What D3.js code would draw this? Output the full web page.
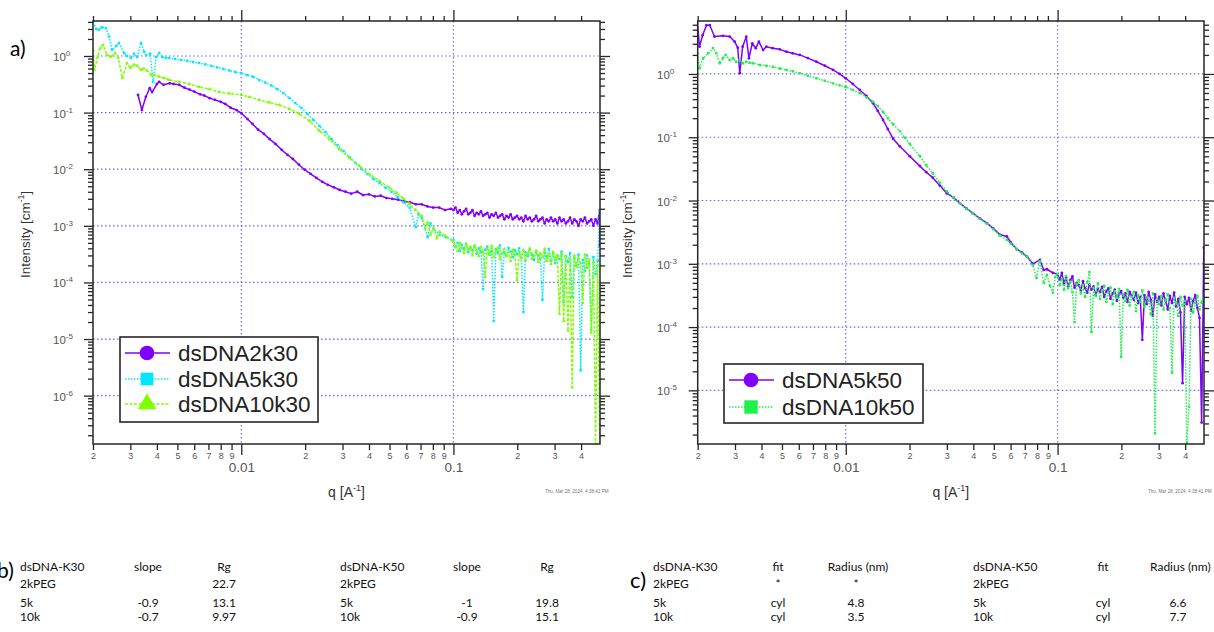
<!DOCTYPE html>
<html><head><meta charset="utf-8">
<script src="https://cdn.jsdelivr.net/npm/d3@7"></script>
<style>body{margin:0;background:#fff} svg{display:block}</style>
</head><body>
<svg id="c" width="1214" height="632"></svg>
<script>
// ---------------- DATA ----------------
// shared q grid of the noisy high-q tails [A^-1]
const qTail = [
0.1000,0.1023,0.1047,0.1072,0.1096,0.1122,0.1148,0.1175,0.1202,0.1230,
0.1259,0.1288,0.1318,0.1349,0.1380,0.1413,0.1445,0.1479,0.1514,0.1549,
0.1585,0.1622,0.1660,0.1698,0.1738,0.1778,0.1820,0.1862,0.1905,0.1950,
0.1995,0.2042,0.2089,0.2138,0.2188,0.2239,0.2291,0.2344,0.2399,0.2455,
0.2512,0.2570,0.2630,0.2692,0.2754,0.2818,0.2884,0.2951,0.3020,0.3090,
0.3162,0.3236,0.3311,0.3388,0.3467,0.3548,0.3631,0.3715,0.3802,0.3890,
0.3981,0.4074,0.4169,0.4266,0.4365,0.4467,0.4571,0.4677,0.4786,0.4898];

// ---- left panel: dsDNA-K30 ----
const head2k30 = [[0.00326,0.205],[0.0034,0.111],[0.00355,0.19],[0.0037,0.27],[0.0038,0.23],[0.0040,0.32],[0.0041,0.35],[0.0043,0.31],[0.0046,0.33],[0.0048,0.32],[0.0051,0.31],[0.0054,0.275],[0.0057,0.255],[0.0060,0.235],[0.0064,0.21],[0.0067,0.20],[0.0071,0.18],[0.0075,0.168],[0.0080,0.155],[0.0084,0.142],[0.0089,0.122],[0.0095,0.111],[0.0100,0.098],[0.0107,0.077],[0.0113,0.063],[0.0120,0.050],[0.0128,0.042],[0.0136,0.034],[0.0145,0.028],[0.0155,0.022],[0.0165,0.018],[0.0175,0.0152],[0.0187,0.0120],[0.0199,0.0098],[0.0212,0.0083],[0.0226,0.0070],[0.0241,0.0060],[0.0256,0.0053],[0.0273,0.0048],[0.0291,0.0043],[0.0310,0.0040],[0.0330,0.0037],[0.0352,0.0040],[0.0375,0.0035],[0.0400,0.0036],[0.0426,0.0033],[0.0454,0.0034],[0.0484,0.0031],[0.0515,0.0030],[0.0549,0.0029],[0.0585,0.0027],[0.0624,0.0026],[0.0665,0.0024],[0.0708,0.0024],[0.0755,0.0022],[0.0804,0.0021],[0.0857,0.0021],[0.0913,0.0019],[0.0973,0.0020]];
// tail intensities in units of 1e-3 cm^-1
const tail2k30 = [
1.9,2.1,1.7,1.9,1.6,1.8,2.0,1.6,1.7,1.9,
1.5,1.7,1.6,1.8,1.5,1.6,1.7,1.4,1.6,1.5,
1.7,1.4,1.5,1.6,1.3,1.5,1.4,1.6,1.3,1.4,
1.5,1.3,1.4,1.2,1.5,1.3,1.4,1.2,1.3,1.5,
1.2,1.3,1.4,1.1,1.3,1.2,1.4,1.2,1.3,1.1,
1.4,1.2,1.3,1.1,1.2,1.4,1.1,1.3,1.2,1.0,
1.3,1.2,1.4,1.1,1.2,1.3,1.0,1.3,1.1,1.9];
const end2k30 = [[0.4905,0.00045]];

const head5k30 = [[0.00200,3.99],[0.00207,3.0],[0.00213,2.9],[0.00220,3.2],[0.00230,3.1],[0.00238,2.2],[0.00246,1.28],[0.00257,1.5],[0.00265,1.7],[0.00280,1.13],[0.00289,1.0],[0.00302,0.92],[0.00312,1.1],[0.00323,0.96],[0.00337,1.7],[0.00348,1.2],[0.00356,1.04],[0.00372,1.1],[0.00384,0.35],[0.00397,0.96],[0.00410,1.13],[0.00424,0.96],[0.00442,0.92],[0.00457,0.92],[0.00488,0.885],[0.00521,0.85],[0.00556,0.82],[0.00593,0.78],[0.00633,0.75],[0.00676,0.71],[0.00722,0.67],[0.00770,0.63],[0.00822,0.59],[0.00878,0.555],[0.00937,0.52],[0.0100,0.50],[0.01067,0.46],[0.01139,0.43],[0.01216,0.377],[0.01298,0.34],[0.01386,0.30],[0.01479,0.26],[0.01579,0.222],[0.01686,0.181],[0.01799,0.148],[0.01921,0.121],[0.02050,0.095],[0.02189,0.074],[0.02336,0.058],[0.02494,0.0454],[0.02662,0.0342],[0.02842,0.0268],[0.03033,0.0210],[0.03238,0.0164],[0.03456,0.0129],[0.03689,0.0101],[0.03938,0.0082],[0.04204,0.0067],[0.04487,0.0057],[0.04790,0.0047],[0.05113,0.0040],[0.05457,0.0032],[0.05826,0.0026],[0.06218,0.0021],[0.06638,0.00095],[0.06850,0.0016],[0.07085,0.00137],[0.07563,0.00063],[0.07800,0.0011],[0.08073,0.00088],[0.08617,0.00070],[0.09198,0.00063]];
// tail intensities in units of 1e-4 cm^-1
const tail5k30 = [
5.6,4.2,5.0,3.6,4.6,3.9,4.8,3.4,4.1,3.7,
4.4,3.2,4.0,3.5,0.76,3.8,4.3,3.1,3.6,0.21,
3.9,3.3,4.5,1.26,3.4,3.0,4.1,3.5,2.8,3.7,
3.2,4.0,2.7,0.30,3.4,2.9,3.8,3.1,2.5,3.6,
3.0,2.6,0.49,3.3,2.8,3.9,2.4,3.2,2.2,3.0,
2.6,3.5,0.45,2.9,2.3,3.3,0.55,2.7,2.0,3.1,
0.028,2.5,1.6,3.0,2.1,0.145,2.8,1.4,2.4,19];

const head10k30 = [[0.00200,1.28],[0.00203,0.56],[0.00210,0.95],[0.00216,1.38],[0.00223,1.56],[0.00233,1.04],[0.00243,0.96],[0.00254,1.13],[0.00263,0.92],[0.00275,0.41],[0.00289,0.75],[0.00300,0.62],[0.00312,0.70],[0.00323,0.67],[0.00337,0.57],[0.00348,0.60],[0.00360,0.55],[0.00376,0.46],[0.00392,0.46],[0.00410,0.43],[0.00433,0.41],[0.00457,0.377],[0.00510,0.347],[0.00568,0.320],[0.00633,0.284],[0.00706,0.261],[0.00787,0.231],[0.00878,0.218],[0.0100,0.205],[0.01091,0.189],[0.01216,0.167],[0.01356,0.151],[0.01512,0.136],[0.01686,0.116],[0.0188,0.0944],[0.0210,0.0711],[0.0234,0.0473],[0.0260,0.0342],[0.0290,0.0226],[0.0324,0.0157],[0.0361,0.0114],[0.0402,0.0082],[0.0449,0.0062],[0.0500,0.0047],[0.0541,0.0038],[0.0583,0.0030],[0.0622,0.00244],[0.0664,0.0019],[0.0709,0.0015],[0.0735,0.0009],[0.0756,0.00116],[0.0780,0.0007],[0.0807,0.00092],[0.0835,0.00060],[0.0862,0.00078],[0.0920,0.00066]];
const tail10k30 = [
5.2,4.4,3.6,5.0,4.1,3.3,4.7,3.8,4.3,3.0,
4.5,3.7,2.9,4.2,3.4,1.26,3.9,3.1,4.4,2.8,
3.6,4.1,2.6,3.3,3.9,2.9,3.5,2.4,3.8,3.1,
1.1,3.4,2.7,3.7,2.5,3.2,4.0,2.6,3.0,3.6,
2.3,3.3,2.8,3.9,2.4,3.1,2.1,3.5,2.6,3.0,
0.28,3.2,0.21,2.9,0.14,2.6,0.014,3.0,1.9,2.7,
2.2,0.43,3.1,1.8,2.5,0.13,2.3,0.0014,2.0,0.0012];

// ---- right panel: dsDNA-K50 ----
const head5k50 = [[0.00199,6.7],[0.00204,2.7],[0.00211,4.1],[0.00220,5.9],[0.00228,5.9],[0.00240,3.9],[0.00263,4.0],[0.00283,3.9],[0.00299,3.24],[0.00309,2.6],[0.00316,1.03],[0.00326,2.7],[0.00339,3.88],[0.00349,1.77],[0.00362,3.05],[0.00376,2.55],[0.00389,3.24],[0.00407,2.39],[0.00422,2.7],[0.00452,2.55],[0.00488,2.45],[0.00525,2.25],[0.00562,2.12],[0.00606,2.0],[0.00662,1.78],[0.00727,1.56],[0.00796,1.35],[0.00871,1.16],[0.00935,1.0],[0.0100,0.855],[0.01079,0.695],[0.01164,0.559],[0.01252,0.449],[0.01346,0.344],[0.01416,0.26],[0.01500,0.1875],[0.01579,0.135],[0.01673,0.095],[0.01799,0.072],[0.02006,0.050],[0.02238,0.035],[0.0240,0.028],[0.02574,0.023],[0.0278,0.0172],[0.02998,0.0130],[0.0322,0.0112],[0.03455,0.0091],[0.0371,0.0075],[0.0398,0.0063],[0.0430,0.0052],[0.04634,0.0044],[0.0498,0.0036],[0.05335,0.0029],[0.0576,0.0027],[0.0600,0.0022],[0.06425,0.0017],[0.0680,0.0015],[0.07164,0.0013],[0.07645,0.0010],[0.08247,0.00115],[0.0860,0.00080],[0.08903,0.00082],[0.09502,0.00072]];
const tail5k50 = [
6.8,5.6,7.2,4.9,6.1,4.4,5.5,6.3,4.2,5.0,
4.6,3.8,5.3,4.1,3.5,4.7,3.9,4.4,3.2,4.0,
3.6,4.3,3.0,3.7,4.1,2.8,3.4,3.9,2.6,3.3,
3.7,2.9,3.4,2.5,3.6,3.1,2.7,3.5,2.4,3.0,
0.63,3.2,2.3,3.6,2.7,1.5,3.3,2.5,3.0,2.2,
3.4,2.6,1.9,3.1,2.4,3.5,2.1,2.8,1.7,0.13,
3.0,2.3,2.9,1.8,2.6,3.2,2.0,1.4,0.031,18];

const head10k50 = [[0.00199,2.12],[0.00204,1.23],[0.00212,1.77],[0.00224,2.12],[0.00236,2.55],[0.00245,2.12],[0.00254,1.48],[0.00263,1.77],[0.00271,2.0],[0.00283,1.66],[0.00294,1.77],[0.00304,1.56],[0.00316,1.66],[0.00327,1.48],[0.00339,1.56],[0.00352,1.50],[0.00365,1.48],[0.00393,1.39],[0.00422,1.35],[0.00454,1.30],[0.00488,1.22],[0.00525,1.157],[0.00562,1.10],[0.00606,1.03],[0.00662,0.94],[0.00727,0.855],[0.00796,0.78],[0.00871,0.71],[0.00935,0.66],[0.0100,0.62],[0.01079,0.56],[0.01164,0.50],[0.01252,0.43],[0.01346,0.365],[0.01416,0.31],[0.01500,0.25],[0.01579,0.20],[0.01673,0.16],[0.01799,0.125],[0.01900,0.098],[0.02006,0.078],[0.02238,0.050],[0.0240,0.036],[0.02574,0.027],[0.0278,0.019],[0.02998,0.0140],[0.0322,0.0112],[0.03455,0.0091],[0.0371,0.0074],[0.0398,0.0063],[0.0430,0.0051],[0.04634,0.0043],[0.0498,0.0035],[0.05335,0.0028],[0.0576,0.0024],[0.0600,0.0021],[0.06425,0.0017],[0.0680,0.00145],[0.07164,0.0013],[0.07645,0.00095],[0.0795,0.0006],[0.08247,0.0011],[0.0860,0.0005],[0.08903,0.00067],[0.0920,0.00045],[0.09502,0.00035],[0.0975,0.00062]];
const tail10k50 = [
7.0,4.6,5.8,3.9,6.4,4.1,5.2,3.6,1.2,4.8,
5.5,3.4,4.6,3.0,5.1,7.4,0.84,4.2,3.1,4.9,
2.8,3.8,4.5,2.5,3.5,4.2,2.3,3.7,2.9,4.0,
0.34,3.3,2.6,3.9,2.2,3.0,3.6,1.8,3.2,2.5,
3.8,2.1,3.0,2.6,1.6,3.4,0.021,2.8,2.3,3.1,
1.9,2.7,3.3,2.0,0.19,2.9,2.4,1.5,3.0,2.2,
2.6,0.015,0.055,2.8,1.7,2.4,3.1,1.9,2.5,2.9];

// legend names / axis ticks / labels
const names30 = ["dsDNA2k30","dsDNA5k30","dsDNA10k30"];
const names50 = ["dsDNA5k50","dsDNA10k50"];
const xMajorTicks = [0.01, 0.1];
const xMinorDigits = [2,3,4,5,6,7,8,9];
const yMajorExpL = [0,-1,-2,-3,-4,-5,-6];
const yMajorExpR = [0,-1,-2,-3,-4,-5];
const stamp = "Thu, Mar 28, 2024, 4:38:41 PM";

// tables
const tblB1 = [["dsDNA-K30","slope","Rg"],["2kPEG","","22.7"],["5k","-0.9","13.1"],["10k","-0.7","9.97"]];
const tblB2 = [["dsDNA-K50","slope","Rg"],["2kPEG","",""],["5k","-1","19.8"],["10k","-0.9","15.1"]];
const tblC1 = [["dsDNA-K30","fit","Radius (nm)"],["2kPEG","*","*"],["5k","cyl","4.8"],["10k","cyl","3.5"]];
const tblC2 = [["dsDNA-K50","fit","Radius (nm)"],["2kPEG","",""],["5k","cyl","6.6"],["10k","cyl","7.7"]];

// ---------------- DRAW ----------------
const svg = d3.select("#c");
const AX = "Liberation Sans, Arial, sans-serif";
const TXT = "Lato, Carlito, Calibri, sans-serif";
const PURPLE = "#8000ff", CYAN = "#00e8ff", LIME = "#80ff00", GREEN = "#1ef04c";

function build(head, tail, unit, extra) {
  const t = tail.map((v, i) => [qTail[i], v * unit]).filter(d => d[0] !== undefined);
  return head.concat(t).concat(extra || []);
}

function minorTicks(lo, hi, k0, k1) {
  const out = [];
  for (let k = k0; k <= k1; k++) for (const d of xMinorDigits) {
    const v = +(d * Math.pow(10, k)).toPrecision(6);
    if (v >= lo * 0.9999 && v <= hi * 1.0001) out.push(v);
  }
  return out;
}
function digitOf(v) { const e = Math.floor(Math.log10(v) + 1e-9); return Math.round(v / Math.pow(10, e)); }

function panel(p) {
  const g = svg.append("g");
  const x = d3.scaleLog().domain(p.xd).range([p.x0, p.x1]);
  const y = d3.scaleLog().domain(p.yd).range([p.y1, p.y0]);
  const clipId = "clip" + p.id;
  svg.append("clipPath").attr("id", clipId).append("rect")
    .attr("x", p.x0).attr("y", p.y0).attr("width", p.x1 - p.x0).attr("height", p.y1 - p.y0);

  // grid
  const yMaj = p.yExp.map(e => Math.pow(10, e));
  g.append("g").selectAll("line").data(yMaj).join("line")
    .attr("x1", p.x0).attr("x2", p.x1).attr("y1", d => y(d)).attr("y2", d => y(d))
    .attr("stroke", "#6b6bff").attr("stroke-width", 1.2).attr("stroke-dasharray", "1.6,2.4");
  g.append("g").selectAll("line").data(xMajorTicks).join("line")
    .attr("y1", p.y0).attr("y2", p.y1).attr("x1", d => x(d)).attr("x2", d => x(d))
    .attr("stroke", "#6b6bff").attr("stroke-width", 1.2).attr("stroke-dasharray", "1.6,2.4");

  // series
  const dg = g.append("g").attr("clip-path", `url(#${clipId})`);
  p.series.forEach(s => {
    const line = d3.line().x(d => x(d[0])).y(d => y(d[1]));
    dg.append("path").datum(s.data).attr("d", line).attr("fill", "none")
      .attr("stroke", s.color).attr("stroke-width", 1.5)
      .attr("stroke-dasharray", s.dash || null).attr("stroke-linejoin", "round");
    const sym = d3.symbol().type(s.sym).size(s.msize);
    dg.append("g").selectAll("path").data(s.data).join("path")
      .attr("transform", d => `translate(${x(d[0])},${y(d[1])})`)
      .attr("d", sym).attr("fill", s.color);
  });

  // axes
  const xMin = minorTicks(p.xd[0], p.xd[1], -3, -1);
  const yMin = minorTicks(p.yd[0], p.yd[1], -8, 0);
  function styleAx(sel) {
    sel.select(".domain").remove();
    sel.selectAll(".tick line").attr("stroke", "#262626").attr("stroke-width", 1.3);
    sel.selectAll(".tick text").attr("fill", "#555").attr("font-family", AX);
  }
  g.append("g").attr("transform", `translate(0,${p.y1})`)
    .call(d3.axisBottom(x).tickValues(xMin).tickSize(6).tickPadding(3).tickFormat(digitOf))
    .call(styleAx).selectAll("text").attr("font-size", 9);
  g.append("g").attr("transform", `translate(0,${p.y1})`)
    .call(d3.axisBottom(x).tickValues(xMajorTicks).tickSize(11).tickPadding(7).tickFormat(d => String(d)))
    .call(styleAx).selectAll("text").attr("font-size", 13.5);
  g.append("g").attr("transform", `translate(0,${p.y0})`)
    .call(d3.axisTop(x).tickValues(xMin).tickSize(5).tickFormat("")).call(styleAx);
  g.append("g").attr("transform", `translate(0,${p.y0})`)
    .call(d3.axisTop(x).tickValues(xMajorTicks).tickSize(11).tickFormat("")).call(styleAx);
  g.append("g").attr("transform", `translate(${p.x0},0)`)
    .call(d3.axisLeft(y).tickValues(yMin).tickSize(5).tickFormat("")).call(styleAx);
  g.append("g").attr("transform", `translate(${p.x0},0)`)
    .call(d3.axisLeft(y).tickValues(yMaj).tickSize(9).tickFormat("")).call(styleAx);
  g.append("g").attr("transform", `translate(${p.x1},0)`)
    .call(d3.axisRight(y).tickValues(yMin).tickSize(5).tickFormat("")).call(styleAx);
  g.append("g").attr("transform", `translate(${p.x1},0)`)
    .call(d3.axisRight(y).tickValues(yMaj).tickSize(10).tickFormat("")).call(styleAx);

  // frame
  g.append("rect").attr("x", p.x0).attr("y", p.y0).attr("width", p.x1 - p.x0).attr("height", p.y1 - p.y0)
    .attr("fill", "none").attr("stroke", "#262626").attr("stroke-width", 1.5);

  // y labels 10^n
  p.yExp.forEach(e => {
    const t = g.append("text").attr("x", p.ylabX).attr("y", y(Math.pow(10, e)) + 5)
      .attr("font-family", AX).attr("font-size", 11.5).attr("fill", "#555");
    t.append("tspan").text("10");
    t.append("tspan").attr("font-size", 8).attr("dy", -5).text(e === 0 ? "0" : "-" + (-e));
  });

  // axis titles
  const xt = g.append("text").attr("x", (p.x0 + p.x1) / 2).attr("y", 497).attr("text-anchor", "middle")
    .attr("font-family", AX).attr("font-size", 14).attr("fill", "#333");
  xt.append("tspan").text("q [A");
  xt.append("tspan").attr("font-size", 9).attr("dy", -6).text("-1");
  xt.append("tspan").attr("dy", 6).text("]");
  const yt = g.append("text").attr("transform", `translate(${p.ytX},${(p.y0 + p.y1) / 2 + 2}) rotate(-90)`)
    .attr("text-anchor", "middle").attr("font-family", AX).attr("font-size", 13.5).attr("fill", "#333");
  yt.append("tspan").text("Intensity [cm");
  yt.append("tspan").attr("font-size", 8.5).attr("dy", -6).text("-1");
  yt.append("tspan").attr("dy", 6).text("]");

  // time stamp
  g.append("text").attr("x", p.stampX).attr("y", 493).attr("font-family", AX)
    .attr("font-size", 4.6).attr("fill", "#777").text(stamp);

  // legend
  const L = p.legend;
  g.append("rect").attr("x", L.x).attr("y", L.y).attr("width", L.w).attr("height", L.h)
    .attr("fill", "#fff").attr("stroke", "#262626").attr("stroke-width", 1.6);
  p.series.forEach((s, i) => {
    const cy = L.rows[i];
    g.append("line").attr("x1", L.x + 5).attr("x2", L.x + 50).attr("y1", cy).attr("y2", cy)
      .attr("stroke", s.color).attr("stroke-width", 1.6).attr("stroke-dasharray", s.dash || null);
    g.append("path").attr("transform", `translate(${L.x + 27},${cy})`)
      .attr("d", d3.symbol().type(s.sym).size(s.lsize)).attr("fill", s.color);
    g.append("text").attr("x", L.x + 58).attr("y", cy + 8).attr("font-family", AX)
      .attr("font-size", 22.5).attr("fill", "#222").text(s.name);
  });
}

panel({
  id: "L", xd: [0.002, 0.491], yd: [1.4e-7, 4.15], x0: 93, x1: 600, y0: 21, y1: 444,
  yExp: yMajorExpL, ylabX: 53, ytX: 30, stampX: 545,
  legend: { x: 120, y: 337, w: 198, h: 85, rows: [353, 379, 404] },
  series: [
    { name: names30[0], data: build(head2k30, tail2k30, 1e-3, end2k30), color: PURPLE, sym: d3.symbolCircle, msize: 6, lsize: 170 },
    { name: names30[1], data: build(head5k30, tail5k30, 1e-4), color: CYAN, dash: "1.5,1.5", sym: d3.symbolSquare, msize: 6, lsize: 160 },
    { name: names30[2], data: build(head10k30, tail10k30, 1e-4), color: LIME, dash: "3,1.5", sym: d3.symbolTriangle, msize: 6, lsize: 150 }
  ]
});
panel({
  id: "R", xd: [0.002, 0.491], yd: [1.42e-6, 6.87], x0: 697.7, x1: 1204, y0: 21, y1: 444,
  yExp: yMajorExpR, ylabX: 657, ytX: 632, stampX: 1148,
  legend: { x: 724, y: 364, w: 199, h: 59, rows: [380, 407] },
  series: [
    { name: names50[0], data: build(head5k50, tail5k50, 1e-4), color: PURPLE, sym: d3.symbolCircle, msize: 6, lsize: 170 },
    { name: names50[1], data: build(head10k50, tail10k50, 1e-4), color: GREEN, dash: "1.5,1.5", sym: d3.symbolSquare, msize: 6, lsize: 180 }
  ]
});

// panel letters
svg.append("text").attr("x", 10).attr("y", 56).attr("font-family", TXT).attr("font-size", 21).attr("fill", "#000").text("a)");
svg.append("text").attr("x", -3).attr("y", 578).attr("font-family", TXT).attr("font-size", 21).attr("fill", "#000").text("b)");
svg.append("text").attr("x", 630).attr("y", 588).attr("font-family", TXT).attr("font-size", 22).attr("fill", "#000").text("c)");

// tables
const rowY = [571, 588, 607, 621];
function table(rows, cols) {
  rows.forEach((r, i) => r.forEach((cell, j) => {
    if (!cell) return;
    const c = cols[j];
    const isHead = i === 0;
    const xx = isHead && c.hx !== undefined ? c.hx : c.x;
    const anchor = isHead && c.hanchor ? c.hanchor : c.anchor;
    svg.append("text").attr("x", xx).attr("y", rowY[i]).attr("text-anchor", anchor)
      .attr("font-family", TXT).attr("font-size", 12).attr("fill", "#111").text(cell);
  }));
}
table(tblB1, [{ x: 20, anchor: "start" }, { x: 148, anchor: "middle" }, { x: 224, anchor: "middle" }]);
table(tblB2, [{ x: 340, anchor: "start" }, { x: 467, anchor: "middle" }, { x: 547, anchor: "middle" }]);
table(tblC1, [{ x: 653, anchor: "start" }, { x: 778, anchor: "middle" }, { x: 856, anchor: "middle", hx: 858 }]);
table(tblC2, [{ x: 973, anchor: "start" }, { x: 1103, anchor: "middle" }, { x: 1178, anchor: "middle", hx: 1150, hanchor: "start" }]);
</script>
</body></html>
